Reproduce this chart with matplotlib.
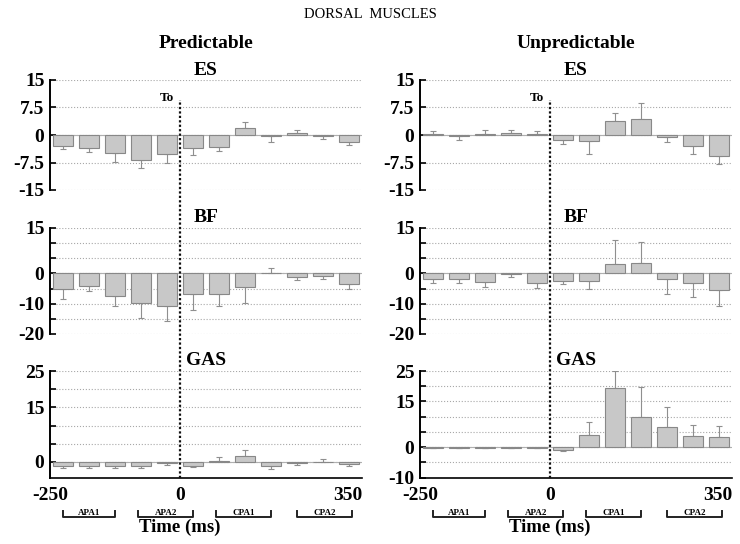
import numpy as np
import matplotlib
matplotlib.use("Agg")
import matplotlib.pyplot as plt
import matplotlib.transforms as mtransforms

plt.rcParams['font.family'] = ['Liberation Serif', 'DejaVu Serif']

# 50 ms bins from -250 to 350 ms
bin_starts = [-250, -200, -150, -100, -50, 0, 50, 100, 150, 200, 250, 300]

# ES
es_pred = [-3.0, -3.5, -5.0, -6.8, -5.2, -3.5, -3.4, 1.8, -0.3, 0.5, -0.3, -1.8]
es_pred_err = [0.9, 1.0, 2.3, 2.3, 2.5, 1.9, 1.0, 1.8, 1.5, 1.0, 0.8, 0.9]
es_unpred = [0.2, -0.4, 0.3, 0.6, 0.2, -1.4, -1.6, 3.8, 4.4, -0.5, -2.9, -5.6]
es_unpred_err = [1.0, 1.0, 1.2, 0.9, 0.9, 1.1, 3.6, 2.1, 4.2, 1.5, 2.3, 2.3]

# BF
bf_pred = [-5.3, -4.1, -7.5, -9.7, -10.9, -6.9, -6.9, -4.5, 0.3, -1.1, -1.0, -3.6]
bf_pred_err = [3.0, 1.7, 3.2, 5.0, 4.9, 5.1, 3.8, 5.2, 1.6, 1.1, 0.9, 1.7]
bf_unpred = [-2.0, -1.9, -2.8, -0.2, -3.0, -2.4, -2.4, 3.1, 3.5, -1.9, -3.0, -5.6]
bf_unpred_err = [1.0, 1.4, 1.6, 1.0, 1.8, 1.2, 2.9, 8.1, 6.9, 5.0, 4.8, 5.0]

# GAS
gas_pred = [-1.2, -1.2, -1.2, -1.2, -0.4, -1.0, 0.2, 1.7, -1.2, -0.3, 0.05, -0.5]
gas_pred_err = [0.6, 0.5, 0.6, 0.6, 0.5, 0.5, 1.2, 1.5, 0.8, 0.6, 0.7, 0.5]
gas_unpred = [-0.2, -0.4, -0.2, -0.4, -0.2, -0.9, 4.1, 19.5, 9.9, 6.5, 3.7, 3.3]
gas_unpred_err = [0.0, 0.0, 0.0, 0.0, 0.0, 0.3, 4.0, 5.6, 9.9, 6.7, 3.5, 3.5]

# phase windows (ms)
phases = ['APA1', 'APA2', 'CPA1', 'CPA2']
phase_start = [-225, -80, 70, 225]
phase_end = [-125, 25, 175, 330]

W, H = 740, 544
fig = plt.figure(figsize=(7.4, 5.44), dpi=100)

def frac_rect(x0, x1, ytop, ybot):
    return [x0 / W, 1 - ybot / H, (x1 - x0) / W, (ybot - ytop) / H]

bar_color = '#c8c8c8'
edge_color = '#888888'
grid_color = '#a8a8a8'


def draw_panel(ax, vals, errs, ylim, gridticks, labticks, labtexts, name, title_y,
               bottom=False, first_x=-250):
    vals = np.array(vals)
    errs = np.array(errs)
    centers = np.array(bin_starts) + 25
    lower = np.where(vals < 0, errs, 0)
    upper = np.where(vals >= 0, errs, 0)
    for g in gridticks:
        ax.axhline(g, color=grid_color, lw=0.8, ls=':', zorder=0)
    ax.axhline(0, color='#b0b0b0', lw=0.8, zorder=0)
    ax.bar(centers, vals, width=40, color=bar_color, edgecolor=edge_color, lw=0.8, zorder=2)
    ax.errorbar(centers, vals, yerr=[lower, upper], fmt='none', ecolor='#8f8f8f',
                elinewidth=0.8, capsize=2, capthick=0.8, zorder=1)
    ax.set_xlim(-250, 350)
    ax.set_ylim(*ylim)
    ax.set_yticks(gridticks)
    ax.set_yticklabels([labtexts[labticks.index(g)] if g in labticks else '' for g in gridticks])
    ax.tick_params(axis='y', direction='in', length=4, width=1.2, labelsize=14, pad=4)
    for lab in ax.get_yticklabels():
        lab.set_fontweight('bold')
    for s in ['top', 'right']:
        ax.spines[s].set_visible(False)
    ax.spines['left'].set_linewidth(1.4)
    if bottom:
        ax.spines['bottom'].set_linewidth(1.2)
        ax.set_xticks([-250, 0, 350])
        ax.set_xticklabels(['-250', '0', '350'])
        ax.tick_params(axis='x', length=0, labelsize=14, pad=7)
        labs = ax.get_xticklabels()
        for lab in labs:
            lab.set_fontweight('bold')
        labs[0].set_x(first_x)
        labs[-1].set_horizontalalignment('right')
        # phase brackets
        trans = mtransforms.blended_transform_factory(ax.transData, ax.transAxes)
        for name_p, a, b in zip(phases, phase_start, phase_end):
            ax.plot([a, a, b, b], [-0.315, -0.37, -0.37, -0.315], color='#222222', lw=1.4,
                    transform=trans, clip_on=False)
            ax.text((a + b) / 2, -0.33, name_p, transform=trans, ha='center', va='center',
                    fontsize=6.5, fontweight='bold')
        ax.text(0, -0.465, 'Time (ms)', transform=trans, ha='center', va='center',
                fontsize=13.5, fontweight='bold')
    else:
        ax.spines['bottom'].set_visible(False)
        ax.set_xticks([])
    ax.text(0.5, title_y, name, transform=ax.transAxes, ha='center', va='center',
            fontsize=14, fontweight='bold')


columns = [
    (50, 362, 'Predictable', es_pred, es_pred_err, bf_pred, bf_pred_err, gas_pred, gas_pred_err, -4.3, -250),
    (420, 732, 'Unpredictable', es_unpred, es_unpred_err, bf_unpred, bf_unpred_err, gas_unpred, gas_unpred_err, -10, -240),
]

for x0, x1, ctitle, es, ese, bf, bfe, gas, gase, gas_low, fx in columns:
    ax1 = fig.add_axes(frac_rect(x0, x1, 80, 190))
    draw_panel(ax1, es, ese, (-15, 15), [15, 7.5, 0, -7.5, -15], [15, 7.5, 0, -7.5, -15],
               ['15', '7.5', '0', '-7.5', '-15'], 'ES', 1.09)
    ax2 = fig.add_axes(frac_rect(x0, x1, 228, 334))
    draw_panel(ax2, bf, bfe, (-20, 15), [15, 10, 5, 0, -5, -10, -15, -20], [15, 0, -10, -20],
               ['15', '0', '-10', '-20'], 'BF', 1.10)
    ax3 = fig.add_axes(frac_rect(x0, x1, 371, 477.5))
    gt = [25, 20, 15, 10, 5, 0, -5, -10] if gas_low <= -10 else [25, 20, 15, 10, 5, 0]
    lt = [25, 15, 0, -10] if gas_low <= -10 else [25, 15, 0]
    draw_panel(ax3, gas, gase, (gas_low, 25), gt, lt, [str(v) for v in lt], 'GAS', 1.10,
               bottom=True, first_x=fx)

    # onset line spanning all three panels
    ov = fig.add_axes(frac_rect(x0, x1, 100, 478))
    ov.set_xlim(-250, 350)
    ov.set_ylim(0, 1)
    ov.axis('off')
    ov.axvline(0, color='#111111', lw=1.6, ls=(0, (1, 1)))
    ov.text(-12, 1.005, 'To', ha='right', va='center', fontsize=9.5, fontweight='bold')

    fig.text(((x0 + x1) / 2) / W, 1 - 44 / H, ctitle, ha='center', va='center',
             fontsize=14, fontweight='bold')

fig.text(0.5, 1 - 15 / H, 'DORSAL  MUSCLES', ha='center', va='center', fontsize=10.5)

fig.savefig('out.png', dpi=100)
